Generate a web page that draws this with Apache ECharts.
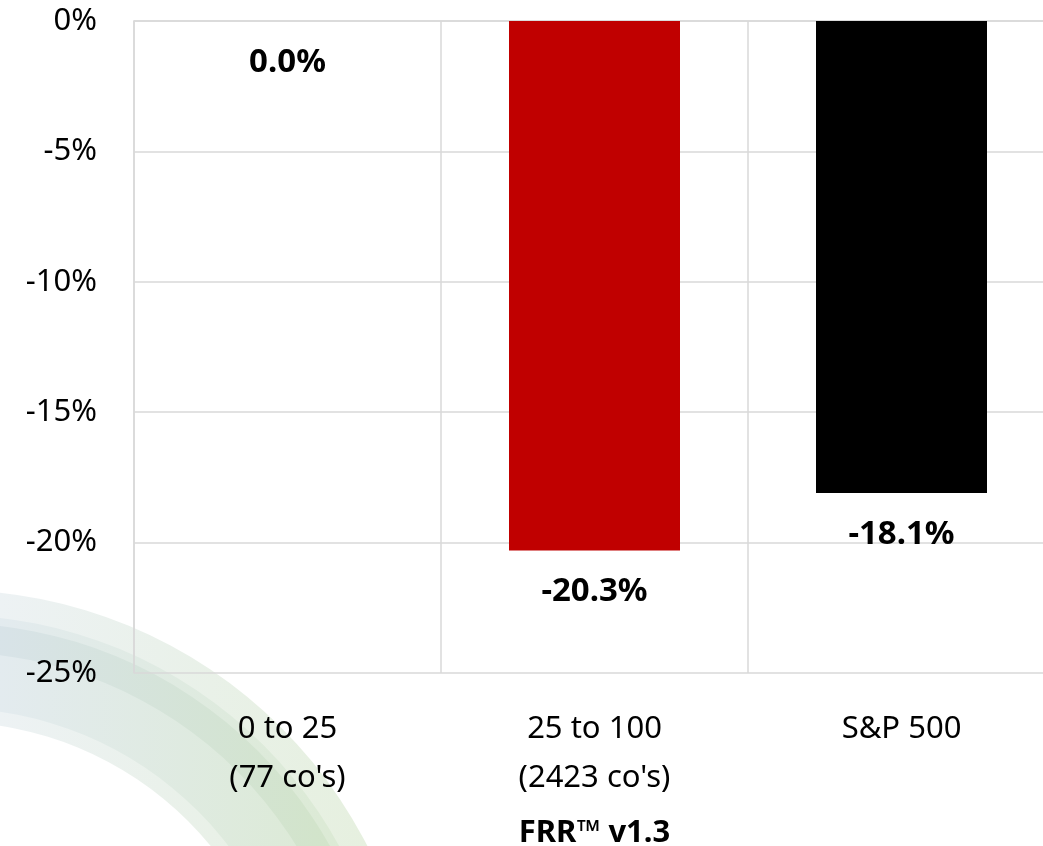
<!DOCTYPE html>
<html>
<head>
<meta charset="utf-8">
<script src="https://cdn.jsdelivr.net/npm/echarts@6/dist/echarts.min.js"></script>
<style>html,body{margin:0;padding:0;background:#fff}#c{width:1043px;height:846px}</style>
</head>
<body>
<div id="c"></div>
<script>
var categories = ['0 to 25\n(77 co\'s)', '25 to 100\n(2423 co\'s)', 'S&P 500'];
var values = [0.0, -20.3, -18.1];
var barColors = ['#C00000', '#C00000', '#000000'];
var axisName = 'FRR™ v1.3';
var yMin = -25, yMax = 0, yInterval = 5;

var FONT = '"Noto Sans", "Open Sans", sans-serif';
var chart = echarts.init(document.getElementById('c'), null, {renderer: 'canvas'});

function grad(a, b) {
  return new echarts.graphic.LinearGradient(0, 0, 370, 0, [
    {offset: 0, color: a}, {offset: 1, color: b}
  ], true);
}

var option = {
  backgroundColor: '#ffffff',
  animation: false,
  textStyle: {fontFamily: FONT},
  graphic: [
    {type: 'ring', z: -10, silent: true, shape: {cx: -51, cy: 1060, r: 470, r0: 338},
     style: {fill: grad('#edf2f4', '#e6f0df')}},
    {type: 'ring', z: -9, silent: true, shape: {cx: -51, cy: 1060, r: 445, r0: 352},
     style: {fill: grad('#e3ebef', '#dbead2')}},
    {type: 'ring', z: -8, silent: true, shape: {cx: -51, cy: 1060, r: 437, r0: 408},
     style: {fill: grad('#d8e3e8', '#d1e4c6')}}
  ],
  grid: {left: 134, top: 21, width: 921, height: 652, containLabel: false, outerBoundsMode: 'none'},
  xAxis: {
    type: 'category',
    data: categories,
    name: axisName,
    nameLocation: 'middle',
    nameGap: 144,
    nameTextStyle: {fontSize: 31, fontWeight: 'bold', color: '#000', fontFamily: FONT, lineHeight: 32},
    axisLine: {show: true, lineStyle: {color: '#d9d9d9', width: 1.5}},
    axisTick: {show: false},
    splitLine: {show: true, lineStyle: {color: '#d9d9d9', width: 1.5}},
    axisLabel: {fontSize: 31, color: '#000', lineHeight: 49, margin: 32, fontFamily: FONT, interval: 0}
  },
  yAxis: {
    type: 'value',
    min: yMin, max: yMax, interval: yInterval,
    axisLine: {show: true, lineStyle: {color: '#d9d9d9', width: 1.5}},
    axisTick: {show: false},
    splitLine: {show: true, lineStyle: {color: '#d9d9d9', width: 1.5}},
    axisLabel: {fontSize: 31, color: '#000', margin: 37, fontFamily: FONT,
      formatter: function (v) { return v + '%'; }}
  },
  series: [{
    type: 'bar',
    data: values.map(function (v, i) { return {value: v, itemStyle: {color: barColors[i]}}; }),
    barWidth: 171,
    label: {
      show: true,
      position: 'bottom',
      distance: 25,
      fontSize: 33,
      fontWeight: 'bold',
      color: '#000',
      fontFamily: FONT,
      formatter: function (p) { return p.value.toFixed(1) + '%'; }
    }
  }]
};
chart.setOption(option);
</script>
</body>
</html>
